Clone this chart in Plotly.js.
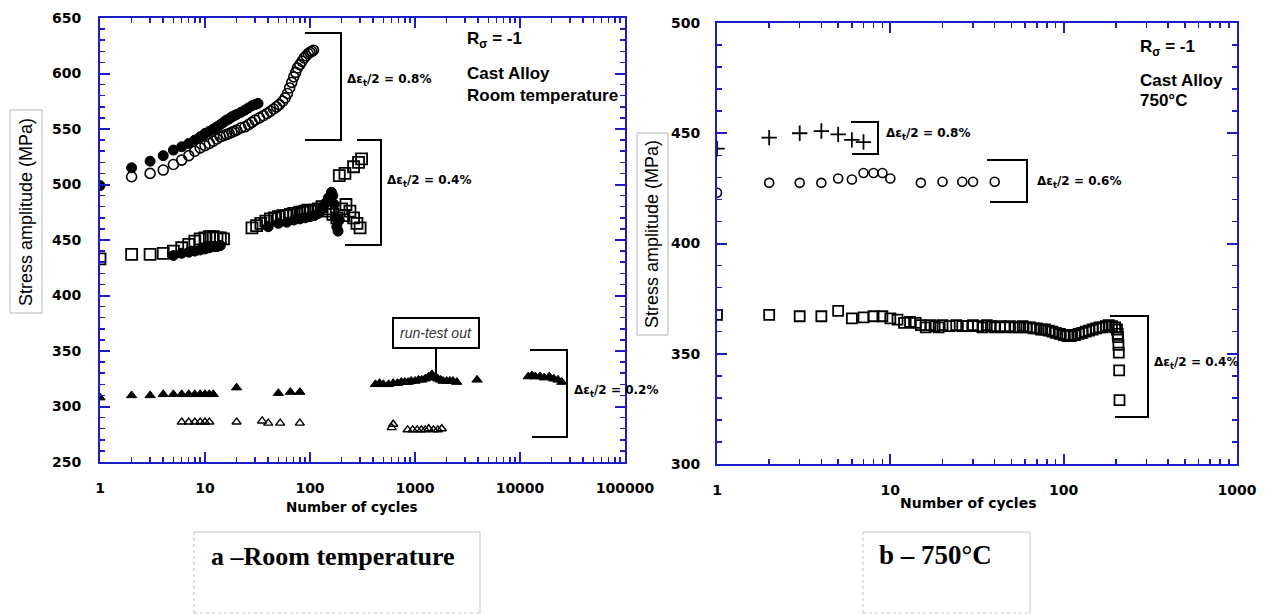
<!DOCTYPE html>
<html><head><meta charset="utf-8">
<script src="https://cdn.plot.ly/plotly-3.0.1.min.js"></script>
<style>html,body{margin:0;padding:0;background:#fff}#chart{width:1268px;height:614px}</style>
</head><body><div id="chart"></div>
<script>
// ---------- Panel a: room temperature ----------
const rtHighFilledN = [1,2,3,4,5,6,7,8,9,10,11,12,13,14,15,16,17,18,19,20,22,24,26,28,30,32];
const rtHighFilledS = [499,515,521,526,531,534,537,540,543,546,548,550,552,554,556,558,559,561,562,563,565,567,569,571,572,573];
const rtHighOpenN = [2,3,4,5,6,7,8,9,10,11,12,13,14,15,16,17,18,19,20,22,24,26,28,30,33,36,39,42,45,48,51,55,58,61,64,67,70,73,76,80,84,88,92,96,100,104,108];
const rtHighOpenS = [507,510,513,518,522,526,530,533,535,537,539,541,543,544,545,546,547,548,549,551,552,554,556,558,560,562,564,566,568,570,572,575,578,582,587,592,597,601,605,608,611,614,616,618,619,620,621];
const rtMidSquareN = [1,2,3,4,5,6,7,8,9,10,11,12,13,14,15,28,31,34,38,42,46,50,55,60,65,70,75,80,85,90,95,100,110,120,130,140,150,165,180,200,210,220,240,260,280,300,190,215,260,290,310];
const rtMidSquareS = [433,437,437,438,440,443,446,449,451,452,453,453,452,452,451,461,463,465,467,469,470,471,472,472,473,474,474,475,475,476,477,476,477,478,480,478,476,473,470,478,472,482,476,470,465,461,508,510,516,520,523];
const rtMidFilledN = [5,6,7,8,9,10,11,12,13,14,40,50,60,70,80,90,100,110,120,130,140,150,160,165,170,175,180,185,190];
const rtMidFilledS = [436,438,439,440,441,442,443,444,444,445,462,465,466,468,469,470,471,472,474,478,483,488,493,490,482,470,462,458,468];
const rtLowFilledN = [1,2,3,4,5,6,7,8,9,10,11,12,20,50,65,80,420,460,500,560,620,680,740,800,860,920,1000,1080,1160,1250,1350,1450,1550,1650,1750,1850,2000,2150,2300,2500,3900,12000,13000,14000,15500,17000,19000,21000,23000,25000];
const rtLowFilledS = [308,310,310,311,311,311,311,311,311,311,311,311,317,312,313,313,320,321,320,320,321,321,322,322,322,323,323,324,324,325,327,329,326,325,324,323,323,323,323,322,324,327,328,327,327,326,327,325,324,322];
const rtLowOpenN = [6,7,8,9,10,11,20,35,40,52,80,600,620,850,950,1050,1150,1250,1350,1500,1650,1800];
const rtLowOpenS = [286,286,286,286,286,286,286,287,285,285,285,281,284,279,279,279,279,279,280,279,279,280];

// ---------- Panel b: 750 °C ----------
const htPlusN = [1,2,3,4,5,6,7];
const htPlusS = [443,448,450,451,449.5,447,446];
const htCircleN = [1,2,3,4,5,6,7,8,9,10,15,20,26,30,40];
const htCircleS = [423,427.5,427.5,427.5,429.5,429,432,432,432,429.5,427.5,428,428,428,428];
const htSquareN = [1,2,3,4,5,6,7,8,9,10,11,12,13,14,15,16,17,18,19,20,22,24,26,28,30,32,34,36,38,40,43,46,49,52,55,58,61,64,67,70,74,78,82,86,90,95,100,105,110,116,122,128,134,140,147,154,161,168,175,182,190,198,203,205,206,207,208,209];
const htSquareS = [367.6,367.6,367,367,369.4,366,366.5,367,367,366,365.5,364,364.5,364,363,362,363,362.5,362,363,362.5,363,362.5,362.5,363,362.5,362,363,362.5,362,362.5,362,362.5,362,362,362.5,362,362,361.5,361.5,361,361,360.5,360,359.5,359,358.5,358,358,358.5,359,359.5,360,360.5,361,361.5,362,362,362.5,363,362.5,362,361,359,357.5,354,350.5,342.5];
const htSquareLastN = [210];
const htSquareLastS = [329];

const xTickA = [1,10,100,1000,10000,100000];
const xTickB = [1,10,100,1000];

const W = 1268, H = 614;
const px = x => x / W, py = y => 1 - y / H;
const BLUE = '#1c1cc4';

function xaxis(d0, d1, range, ticks) {
  return {type:'log', range, domain:[px(d0), px(d1)], showline:true, linecolor:BLUE, linewidth:2,
    mirror:'allticks', ticks:'inside', tickcolor:BLUE, tickwidth:2, ticklen:10, showgrid:false, zeroline:false,
    tickmode:'array', tickvals: ticks, ticktext: ticks.map(String),
    tickfont:{family:'DejaVu Sans', size:14, color:'#000', weight:'bold'}, ticklabelstandoff:12,
    minor:{ticks:'inside', ticklen:5, tickcolor:BLUE, tickwidth:1.5, dtick:'D1', showgrid:false}};
}
function yaxis(d0, d1, range, standoff) {
  return {range, domain:[py(d1), py(d0)], showline:true, linecolor:BLUE, linewidth:2,
    mirror:'allticks', ticks:'inside', tickcolor:BLUE, tickwidth:2, ticklen:10, showgrid:false, zeroline:false,
    dtick:50, tick0:0,
    tickfont:{family:'DejaVu Sans', size:14, color:'#000', weight:'bold'}, ticklabelstandoff:standoff,
    minor:{ticks:'inside', ticklen:5, tickcolor:BLUE, tickwidth:1.5, dtick:10, showgrid:false}};
}

function tr(x, y, symbol, size, xa, ya, lw) {
  return {x, y, mode:'markers', type:'scatter', xaxis:xa, yaxis:ya, showlegend:false, hoverinfo:'x+y',
    marker:{symbol, size, color:'#000', line:{color:'#000', width: lw || 1.6}}};
}

const data = [
  tr(rtMidSquareN, rtMidSquareS, 'square-open', 11, 'x', 'y', 1.8),
  tr(rtMidFilledN, rtMidFilledS, 'circle', 10, 'x', 'y', 1),
  tr(rtHighOpenN, rtHighOpenS, 'circle-open', 10, 'x', 'y', 1.6),
  tr(rtHighFilledN, rtHighFilledS, 'circle', 10, 'x', 'y', 1),
  tr(rtLowFilledN, rtLowFilledS, 'triangle-up', 9, 'x', 'y', 1),
  tr(rtLowOpenN, rtLowOpenS, 'triangle-up-open', 8, 'x', 'y', 1.4),
  tr(htPlusN, htPlusS, 'cross-thin-open', 11, 'x2', 'y2', 1.8),
  tr(htCircleN, htCircleS, 'circle-open', 9, 'x2', 'y2', 1.6),
  tr(htSquareN, htSquareS, 'square-open', 10, 'x2', 'y2', 1.8),
  tr(htSquareLastN, htSquareLastS, 'square-open', 10, 'x2', 'y2', 1.8)
];

function bracket(pts) {
  return {type:'path', xref:'paper', yref:'paper', line:{color:'#000', width:2},
    path: pts.map((p, i) => (i ? 'L' : 'M') + px(p[0]) + ',' + py(p[1])).join(' ')};
}
function hline(x0, x1, y, dash) {
  return {type:'line', xref:'paper', yref:'paper', x0:px(x0), x1:px(x1), y0:py(y), y1:py(y), line:{color:'#c4c4c4', width:1, dash:dash||'solid'}};
}
function vline(x, y0, y1, dash) {
  return {type:'line', xref:'paper', yref:'paper', x0:px(x), x1:px(x), y0:py(y0), y1:py(y1), line:{color:'#c4c4c4', width:1, dash:dash||'solid'}};
}
function rect(x0, y0, x1, y1) {
  return {type:'rect', xref:'paper', yref:'paper', x0:px(x0), x1:px(x1), y0:py(y1), y1:py(y0), line:{color:'#b4b4b4', width:1}};
}

const shapes = [
  bracket([[305,33],[341,33],[341,140],[305,140]]),
  bracket([[357,140],[381,140],[381,245],[345,245]]),
  bracket([[530,350],[567,350],[567,437],[532,437]]),
  bracket([[851,122],[878,122],[878,154],[852,154]]),
  bracket([[987,160],[1027,160],[1027,202],[990,202]]),
  bracket([[1110,316],[1148,316],[1148,417],[1115,417]]),
  rect(10,110,42,313),
  rect(637,133,668,335),
  hline(194,480,532), vline(480,532,614), vline(194,532,614,'dot'), hline(194,480,613,'dot'),
  hline(863,1030,532), vline(1030,532,614), vline(863,532,614,'dot'), hline(863,1030,613,'dot')
];

function txt(x, y, text, size, opts) {
  return Object.assign({xref:'paper', yref:'paper', x:px(x), y:py(y), text, showarrow:false,
    xanchor:'left', yanchor:'middle', font:{family:'Liberation Sans', size, color:'#000', weight:'bold'}}, opts||{});
}
const dlabel = v => 'Δε<sub>t</sub>/2 = ' + v;
const dfont = {font:{family:'DejaVu Sans', size:12, color:'#000', weight:'bold'}};

const annotations = [
  txt(465, 40, 'R<sub>σ</sub> = -1', 17),
  txt(465, 73, 'Cast Alloy', 17),
  txt(465, 95, 'Room temperature', 17),
  txt(1138, 48, 'R<sub>σ</sub> = -1', 17),
  txt(1138, 80, 'Cast Alloy', 17),
  txt(1138, 101, '750°C', 17),
  txt(345, 80, dlabel('0.8%'), 12, dfont),
  txt(385, 181, dlabel('0.4%'), 12, dfont),
  txt(572, 391, dlabel('0.2%'), 12, dfont),
  txt(884, 134, dlabel('0.8%'), 12, dfont),
  txt(1035, 182, dlabel('0.6%'), 12, dfont),
  txt(1152, 363, dlabel('0.4%'), 12, dfont),
  txt(26, 212, 'Stress amplitude (MPa)', 18, {xanchor:'center', textangle:-90, font:{family:'Liberation Sans', size:18, color:'#000'}}),
  txt(652, 234, 'Stress amplitude (MPa)', 18, {xanchor:'center', textangle:-90, font:{family:'Liberation Sans', size:18, color:'#000'}}),
  txt(352, 507, 'Number of cycles', 14, {xanchor:'center', font:{family:'DejaVu Sans', size:13.5, color:'#000', weight:'bold'}}),
  txt(968, 503, 'Number of cycles', 14, {xanchor:'center', font:{family:'DejaVu Sans', size:14, color:'#000', weight:'bold'}}),
  txt(209, 556, 'a –Room temperature', 26, {font:{family:'Liberation Serif', size:26, color:'#000', weight:'bold'}}),
  txt(877, 555, 'b – 750°C', 27, {font:{family:'Liberation Serif', size:27, color:'#000', weight:'bold'}}),
  {xref:'paper', yref:'paper', x:px(436), y:py(378), ax:0, ay:-45, showarrow:true, arrowhead:0, arrowwidth:2, arrowcolor:'#000',
   text:'run-test out', font:{family:'Liberation Sans', size:14, color:'#333', style:'italic'},
   bordercolor:'#000', borderwidth:2, borderpad:6, bgcolor:'#fff'}
];

const layout = {
  width:W, height:H, margin:{l:0, r:0, t:0, b:0}, paper_bgcolor:'#fff', plot_bgcolor:'#fff', showlegend:false,
  xaxis: Object.assign(xaxis(100, 625, [0,5], xTickA), {anchor:'y'}),
  yaxis: Object.assign(yaxis(18, 462, [250,650], 14), {anchor:'x'}),
  xaxis2: Object.assign(xaxis(717, 1237, [0,3], xTickB), {anchor:'y2'}),
  yaxis2: Object.assign(yaxis(23, 464, [300,500], 12), {anchor:'x2'}),
  shapes, annotations
};

Plotly.newPlot('chart', data, layout, {displayModeBar:false, staticPlot:true});
</script></body></html>
